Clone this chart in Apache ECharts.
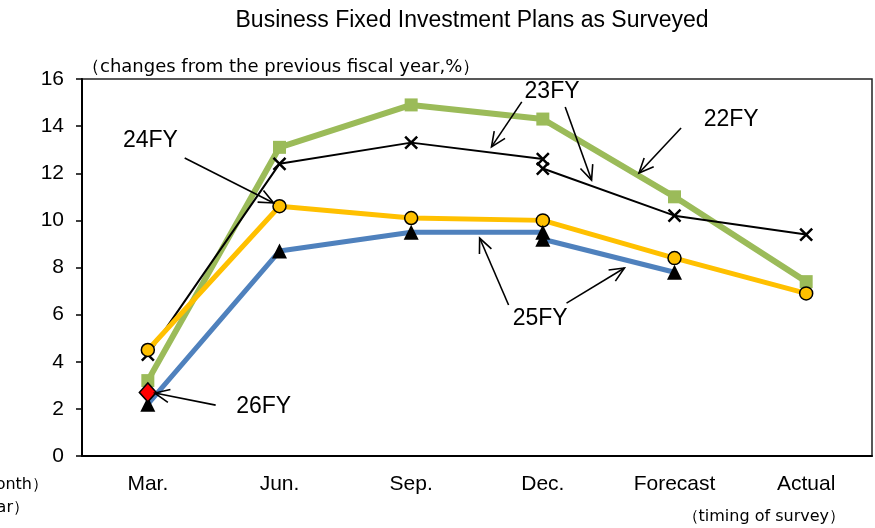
<!DOCTYPE html>
<html>
<head>
<meta charset="utf-8">
<script src="https://cdn.jsdelivr.net/npm/echarts@6/dist/echarts.min.js"></script>
<style>
  html, body { margin: 0; padding: 0; background: #fff; }
  #main { width: 875px; height: 528px; }
</style>
</head>
<body>
<div id="main"></div>
<script>
// survey timing
var months = ['Mar.', 'Jun.', 'Sep.', 'Dec.', 'Forecast', 'Actual'];

// changes from previous fiscal year, %
var fy22 = [3.2, 13.1, 14.9, 14.3, 11.0, 7.4];
var fy23a = [4.3, 12.4, 13.3, 12.6, null, null];   // up to Dec (old basis)
var fy23b = [null, null, null, 12.2, 10.2, 9.4];  // Dec (new basis) onwards
var fy24 = [4.5, 10.6, 10.1, 10.0, 8.4, 6.9];
var fy25a = [2.2, 8.7, 9.5, 9.5, null, null];
var fy25b = [null, null, null, 9.2, 7.8, null];
var fy26 = [2.7, null, null, null, null, null];

var yTicks = [0, 2, 4, 6, 8, 10, 12, 14, 16];

// annotation labels (in data units: category index, %)
var noteNames = ['24FY', '23FY', '22FY', '25FY', '26FY'];
var noteX = [0.02, 3.07, 4.43, 2.98, 0.88];
var noteY = [13.37, 15.45, 14.26, 5.81, 2.08];

// arrows: [x1, y1, x2, y2] -> head at (x2, y2)
var arrows = [
  [0.28, 12.65, 0.955, 10.74],
  [2.84, 15.03, 2.61, 13.12],
  [3.17, 14.81, 3.37, 11.71],
  [4.05, 13.92, 3.73, 12.01],
  [2.74, 6.41, 2.52, 9.25],
  [3.18, 6.49, 3.62, 7.98],
  [0.515, 2.16, 0.053, 2.67]
];

var FONT = '"Liberation Sans", Arial, "Noto Sans CJK JP", sans-serif';
var WIDE = '"DejaVu Sans", "Liberation Sans", sans-serif';
var chart = echarts.init(document.getElementById('main'));

function arrowItem(params, api) {
  var p1 = api.coord([api.value(0), api.value(1)]);
  var p2 = api.coord([api.value(2), api.value(3)]);
  var ang = Math.atan2(p2[1] - p1[1], p2[0] - p1[0]);
  var len = 16, spread = 0.42;
  var h1 = [p2[0] - len * Math.cos(ang - spread), p2[1] - len * Math.sin(ang - spread)];
  var h2 = [p2[0] - len * Math.cos(ang + spread), p2[1] - len * Math.sin(ang + spread)];
  var st = { stroke: '#000', lineWidth: 1.6, fill: null };
  return {
    type: 'group',
    children: [
      { type: 'line', shape: { x1: p1[0], y1: p1[1], x2: p2[0], y2: p2[1] }, style: st },
      { type: 'polyline', shape: { points: [h1, p2, h2] }, style: st }
    ]
  };
}

function noteItem(params, api) {
  var p = api.coord([api.value(0), api.value(1)]);
  return {
    type: 'text',
    x: p[0], y: p[1],
    style: {
      text: noteNames[params.dataIndex],
      fill: '#000',
      font: '23px ' + FONT,
      align: 'center',
      verticalAlign: 'middle'
    }
  };
}

var lineBase = { type: 'line', xAxisIndex: 0, yAxisIndex: 0, connectNulls: false, animation: false };

var option = {
  animation: false,
  backgroundColor: '#fff',
  textStyle: { fontFamily: FONT },
  title: {
    text: 'Business Fixed Investment Plans as Surveyed',
    left: 467, top: 4, textAlign: 'center',
    textStyle: { fontSize: 23, fontWeight: 'normal', color: '#000', fontFamily: FONT }
  },
  grid: {
    left: 82, right: 3, top: 79, bottom: 72,
    show: true, borderColor: '#222', borderWidth: 1.5, backgroundColor: '#fff'
  },
  graphic: [
    { type: 'text', x: 82, y: 67,
      style: { text: '（changes from the previous fiscal year,%）', font: '18px ' + WIDE, fill: '#000', verticalAlign: 'middle' } },
    { type: 'text', x: 48, y: 485,
      style: { text: '（survey month）', font: '16px ' + WIDE, fill: '#000', align: 'right', verticalAlign: 'middle' } },
    { type: 'text', x: 29, y: 508,
      style: { text: '（fiscal year）', font: '16px ' + WIDE, fill: '#000', align: 'right', verticalAlign: 'middle' } },
    { type: 'text', x: 845, y: 517,
      style: { text: '（timing of survey）', font: '16px ' + WIDE, fill: '#000', align: 'right', verticalAlign: 'middle' } }
  ],
  xAxis: [
    {
      type: 'category', data: months, boundaryGap: true,
      axisLine: { onZero: false, lineStyle: { color: '#000', width: 2 } },
      axisTick: { show: false },
      axisLabel: { color: '#000', fontSize: 21, margin: 18, fontFamily: FONT },
      splitLine: { show: false }
    },
    { type: 'value', min: -0.5, max: 5.5, show: false }
  ],
  yAxis: {
    type: 'value', min: 0, max: 16, interval: 2,
    axisLine: { show: true, onZero: false, lineStyle: { color: '#000', width: 2 } },
    axisTick: { show: true, inside: false, length: 6, lineStyle: { color: '#000', width: 1.5 } },
    axisLabel: { color: '#000', fontSize: 21, margin: 18, fontFamily: FONT,
      formatter: function (v) { return yTicks.indexOf(v) >= 0 ? String(v) : ''; } },
    splitLine: { show: false }
  },
  series: [
    Object.assign({}, lineBase, {
      name: '22FY', data: fy22, z: 2,
      symbol: 'rect', symbolSize: 13,
      lineStyle: { color: '#9BBB59', width: 6 },
      itemStyle: { color: '#9BBB59' }
    }),
    Object.assign({}, lineBase, {
      name: '23FY', data: fy23a, z: 3,
      symbol: 'path://M0,0L10,10M10,0L0,10', symbolSize: 12,
      lineStyle: { color: '#000', width: 2 },
      itemStyle: { color: 'rgba(0,0,0,0)', borderColor: '#000', borderWidth: 2.5 }
    }),
    Object.assign({}, lineBase, {
      name: '23FY', data: fy23b, z: 3,
      symbol: 'path://M0,0L10,10M10,0L0,10', symbolSize: 12,
      lineStyle: { color: '#000', width: 2 },
      itemStyle: { color: 'rgba(0,0,0,0)', borderColor: '#000', borderWidth: 2.5 }
    }),
    Object.assign({}, lineBase, {
      name: '24FY', data: fy24, z: 4,
      symbol: 'circle', symbolSize: 13,
      lineStyle: { color: '#FFC000', width: 5 },
      itemStyle: { color: '#FFC000', borderColor: '#000', borderWidth: 1.5 }
    }),
    Object.assign({}, lineBase, {
      name: '25FY', data: fy25a, z: 5,
      symbol: 'triangle', symbolSize: [15, 15],
      lineStyle: { color: '#4F81BD', width: 5 },
      itemStyle: { color: '#000' }
    }),
    Object.assign({}, lineBase, {
      name: '25FY', data: fy25b, z: 5,
      symbol: 'triangle', symbolSize: [15, 15],
      lineStyle: { color: '#4F81BD', width: 5 },
      itemStyle: { color: '#000' }
    }),
    Object.assign({}, lineBase, {
      name: '26FY', data: fy26, z: 6,
      symbol: 'diamond', symbolSize: [17, 19],
      lineStyle: { color: '#FF0000', width: 3 },
      itemStyle: { color: '#FF0000', borderColor: '#000', borderWidth: 1.5 }
    }),
    {
      type: 'custom', name: 'arrows', xAxisIndex: 1, yAxisIndex: 0, z: 7,
      renderItem: arrowItem, data: arrows, encode: { x: [0, 2], y: [1, 3] }, silent: true
    },
    {
      type: 'custom', name: 'notes', xAxisIndex: 1, yAxisIndex: 0, z: 7,
      renderItem: noteItem,
      data: noteX.map(function (x, i) { return [x, noteY[i]]; }),
      encode: { x: 0, y: 1 }, silent: true
    }
  ]
};

chart.setOption(option);
</script>
</body>
</html>
